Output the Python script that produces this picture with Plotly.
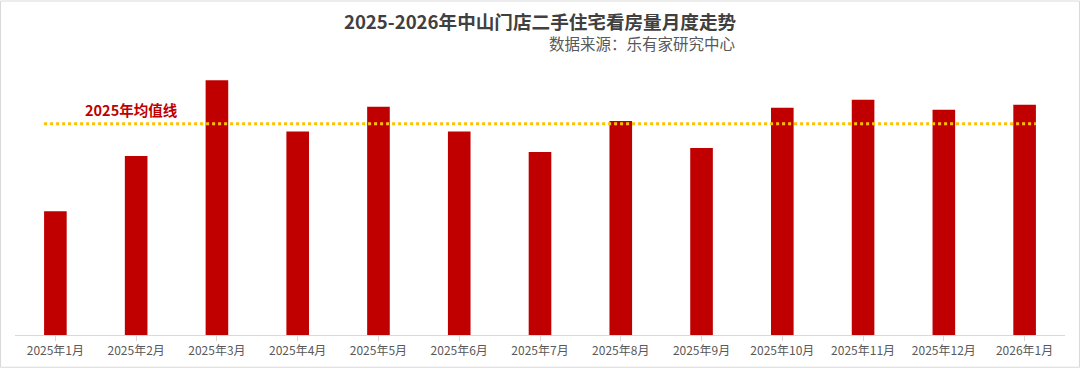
import plotly.graph_objects as go

months = ["2025年1月", "2025年2月", "2025年3月", "2025年4月", "2025年5月", "2025年6月",
          "2025年7月", "2025年8月", "2025年9月", "2025年10月", "2025年11月", "2025年12月",
          "2026年1月"]
views = [124.7, 180.3, 256.7, 205, 230, 205, 184.3, 215.7, 188.3, 229, 237, 227, 232]
mean_2025 = 212.8

TITLE = "2025-2026年中山门店二手住宅看房量月度走势"
SUBTITLE = "数据来源：乐有家研究中心"
MEAN_LABEL = "2025年均值线"

FONT = "Noto Sans CJK SC"
BAR_W = 0.28

fig = go.Figure()
fig.add_trace(go.Bar(
    x=list(range(len(months))), y=views, width=BAR_W,
    marker=dict(color="#C00000", line=dict(width=0)),
    hoverinfo="skip", showlegend=False,
))

fig.add_shape(type="line", xref="x", yref="y",
              x0=-BAR_W / 2, x1=len(months) - 1 + BAR_W / 2, y0=mean_2025, y1=mean_2025,
              line=dict(color="#FFC000", width=3, dash="dot"))

fig.add_annotation(text=MEAN_LABEL, xref="x", yref="y", x=0.94, y=mean_2025 + 14.5,
                   showarrow=False, xanchor="center", yanchor="middle",
                   font=dict(family=FONT, size=14.5, color="#C00000", weight="bold"))

fig.add_annotation(text=SUBTITLE, xref="paper", yref="paper",
                   x=(737 - 15) / 1050, y=(337 - 43) / 267,
                   showarrow=False, xanchor="right", yanchor="middle",
                   font=dict(family=FONT, size=15.5, color="#595959"))

# light frame around the picture
fig.add_shape(type="rect", xref="paper", yref="paper",
              x0=(0.5 - 15) / 1050, x1=(1079.5 - 15) / 1050,
              y0=(337 - 369.5) / 267, y1=(337 - 0.5) / 267,
              line=dict(color="#D9D9D9", width=1), fillcolor="rgba(0,0,0,0)", layer="below")

fig.update_layout(
    width=1080, height=370,
    margin=dict(l=15, r=15, t=70, b=33),
    paper_bgcolor="white", plot_bgcolor="white",
    title=dict(text=TITLE, x=(540 - 15) / 1050, xanchor="center", xref="paper",
               y=1 - 22 / 370, yanchor="middle",
               font=dict(family=FONT, size=18.6, color="#404040", weight="bold")),
    xaxis=dict(
        tickmode="array", tickvals=list(range(len(months))), ticktext=months,
        range=[-0.5, len(months) - 0.5],
        showline=True, linecolor="#D9D9D9", linewidth=1,
        ticks="outside", tickson="boundaries", ticklen=5, tickcolor="#D9D9D9",
        showgrid=False, zeroline=False,
        tickfont=dict(family=FONT, size=12, color="#595959"),
    ),
    yaxis=dict(range=[0, 267], visible=False, showgrid=False, zeroline=False),
)

fig.write_html("out.html", config={"displayModeBar": False, "staticPlot": True},
               post_script="document.body.style.margin='0';document.body.style.overflow='hidden';")
